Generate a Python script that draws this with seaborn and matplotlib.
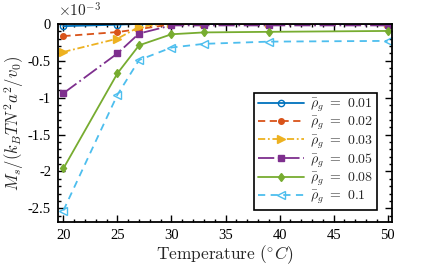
import matplotlib
matplotlib.use("Agg")
import matplotlib.pyplot as plt
import seaborn as sns
from matplotlib.ticker import MultipleLocator, FixedLocator

sns.set_theme(style="white")
plt.rcParams['font.family'] = ['Liberation Serif', 'DejaVu Serif']
plt.rcParams['mathtext.fontset'] = 'cm'
plt.rcParams['axes.unicode_minus'] = False

# Data (M_s in units of 1e-3)
temperature = [20, 25, 27, 30, 33, 39, 50]
rho_labels = ["0.01", "0.02", "0.03", "0.05", "0.08", "0.1"]
ms_001 = [-0.03, -0.01, 0.0, 0.0, 0.0, 0.0, 0.0]
ms_002 = [-0.165, -0.11, -0.07, -0.005, 0.0, 0.0, 0.0]
ms_003 = [-0.38, -0.20, -0.04, 0.015, 0.01, 0.01, 0.01]
ms_005 = [-0.94, -0.40, -0.13, -0.02, -0.02, -0.02, -0.02]
ms_008 = [-1.96, -0.67, -0.29, -0.14, -0.115, -0.107, -0.095]
ms_010 = [-2.53, -0.96, -0.49, -0.32, -0.27, -0.24, -0.23]
series = [ms_001, ms_002, ms_003, ms_005, ms_008, ms_010]

colors = ["#0072BD", "#D95319", "#EDB120", "#7E2F8E", "#77AC30", "#4DBEEE"]
styles = ["-", (0, (4, 2.5)), (0, (4, 1.5, 1, 1.5)), (0, (9, 2, 1, 2)), "-", (0, (4, 3))]
markers = ["o", "o", ">", "s", "d", "<"]
msizes = [4.5, 4.0, 5.5, 4.5, 4.5, 5.5]
mfaces = ["none", None, None, None, None, "none"]

fig = plt.figure(figsize=(4.36, 2.72), dpi=100)
ax = fig.add_axes([0.133, 0.184, 0.766, 0.728])

for lab, ys, c, ls, m, ms, mf in zip(rho_labels, series, colors, styles, markers, msizes, mfaces):
    kw = dict(markerfacecolor=mf if mf is not None else c)
    sns.lineplot(x=temperature, y=ys, ax=ax, color=c, linestyle=ls, marker=m,
                 markersize=ms, markeredgecolor=c, markeredgewidth=1.0, linewidth=1.3,
                 label=r"$\bar{\rho}_g\ =\ " + lab + "$", **kw)

ax.set_xlim(19.5, 50.4)
ax.set_ylim(-2.685, 0.0)
ax.xaxis.set_major_locator(FixedLocator([20, 25, 30, 35, 40, 45, 50]))
ax.xaxis.set_minor_locator(MultipleLocator(1))
ax.yaxis.set_major_locator(FixedLocator([-2.5, -2, -1.5, -1, -0.5, 0]))
ax.yaxis.set_minor_locator(MultipleLocator(0.1))
ax.set_yticklabels(["-2.5", "-2", "-1.5", "-1", "-0.5", "0"])
ax.set_xticklabels(["20", "25", "30", "35", "40", "45", "50"])

ax.tick_params(which="both", direction="in", top=True, right=True, bottom=True, left=True,
               colors="black", labelsize=10.5, width=1.0)
ax.tick_params(which="major", length=5, pad=5)
ax.tick_params(which="minor", length=2.5)
for sp in ax.spines.values():
    sp.set_color("black")
    sp.set_linewidth(1.3)

ax.set_xlabel(r"$\mathrm{Temperature}\ (^{\circ}C)$", fontsize=12.5, labelpad=1)
ax.set_ylabel(r"$M_s/(k_BTN^2a^2/v_0)$", fontsize=12, labelpad=1)
ax.text(0.0, 1.02, r"$\times10^{-3}$", transform=ax.transAxes, fontsize=11,
        ha="left", va="bottom")

leg = ax.legend(loc="lower right", bbox_to_anchor=(0.955, 0.06), fontsize=10,
                frameon=True, fancybox=False, edgecolor="black", framealpha=1,
                handlelength=3.3, borderpad=0.3, labelspacing=0.05, handletextpad=0.4,
                borderaxespad=0.0)
leg.get_frame().set_linewidth(1.2)

fig.savefig("out.png", dpi=100)
